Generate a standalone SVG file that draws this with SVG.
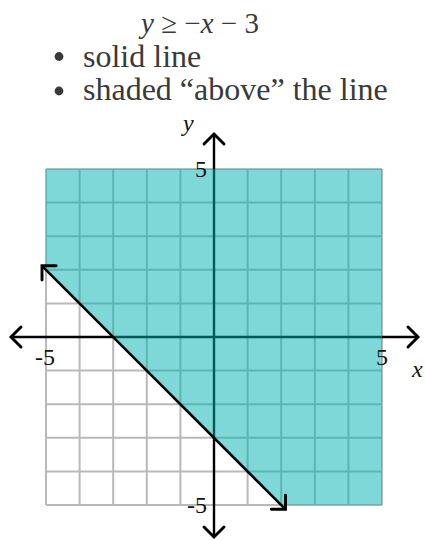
<svg xmlns="http://www.w3.org/2000/svg" width="425" height="540" viewBox="0 0 425 540">
  <style>
    .hdr { font-family: "Liberation Serif", "Times New Roman", serif; fill: #3a3a3a; }
    .lbl { font-family: "Liberation Serif", "Times New Roman", serif; fill: #111; font-size: 24px; }
    .it { font-style: italic; }
    .grid { stroke: #b9b9b9; stroke-width: 2; fill: none; }
    .axis { stroke: #000; stroke-width: 2.4; fill: none; }
    .shade { fill: rgb(0,178,178); fill-opacity: 0.5; stroke: none; }
    .bound { stroke: #000; stroke-width: 2.6; fill: none; }
  </style>
  <defs>
    <marker id="chev" viewBox="-14 -14 28 28" markerWidth="28" markerHeight="28" refX="0" refY="0" orient="auto-start-reverse" markerUnits="userSpaceOnUse">
      <path d="M-10,-10 L0,0 L-10,10" fill="none" stroke="#000" stroke-width="2.9" stroke-linecap="round" stroke-linejoin="miter"/>
    </marker>
  </defs>
  <rect width="425" height="540" fill="#fff"/>

  <g id="header">
    <text class="hdr" x="200" y="33" font-size="29" text-anchor="middle"><tspan class="it">y</tspan> ≥ −<tspan class="it">x</tspan> − 3</text>
    <circle cx="59" cy="56.5" r="4.4" fill="#3a3a3a"/>
    <text class="hdr" x="83" y="67" font-size="32">solid line</text>
    <circle cx="59" cy="91" r="4.4" fill="#3a3a3a"/>
    <text class="hdr" x="83" y="100" font-size="32">shaded “above” the line</text>
  </g>

  <g id="grid" class="grid">
    <path d="M46,169V505M79.6,169V505M113.2,169V505M146.8,169V505M180.4,169V505M214,169V505M247.6,169V505M281.2,169V505M314.8,169V505M348.4,169V505M382,169V505"/>
    <path d="M46,169H382M46,202.6H382M46,236.2H382M46,269.8H382M46,303.4H382M46,337H382M46,370.6H382M46,404.2H382M46,437.8H382M46,471.4H382M46,505H382"/>
  </g>

  <g id="connectors">
    <line id="x-axis" class="axis" x1="11" y1="337" x2="418" y2="337" marker-start="url(#chev)" marker-end="url(#chev)"/>
    <line id="y-axis" class="axis" x1="214" y1="134" x2="214" y2="537" marker-start="url(#chev)" marker-end="url(#chev)"/>
  </g>

  <g id="region">
    <polygon class="shade" points="46,269.8 46,169 382,169 382,505 281.2,505"/>
  </g>

  <g id="boundary">
    <line class="bound" x1="42" y1="265.8" x2="285.5" y2="509.3" marker-start="url(#chev)" marker-end="url(#chev)"/>
  </g>

  <g id="labels">
    <text class="lbl it" x="183" y="131" font-size="26">y</text>
    <text class="lbl it" x="412" y="377" font-size="26">x</text>
    <text class="lbl" x="207" y="177" text-anchor="end">5</text>
    <text class="lbl" x="207" y="513" text-anchor="end">-5</text>
    <text class="lbl" x="45" y="365" text-anchor="middle">-5</text>
    <text class="lbl" x="382" y="365" text-anchor="middle">5</text>
  </g>
</svg>
